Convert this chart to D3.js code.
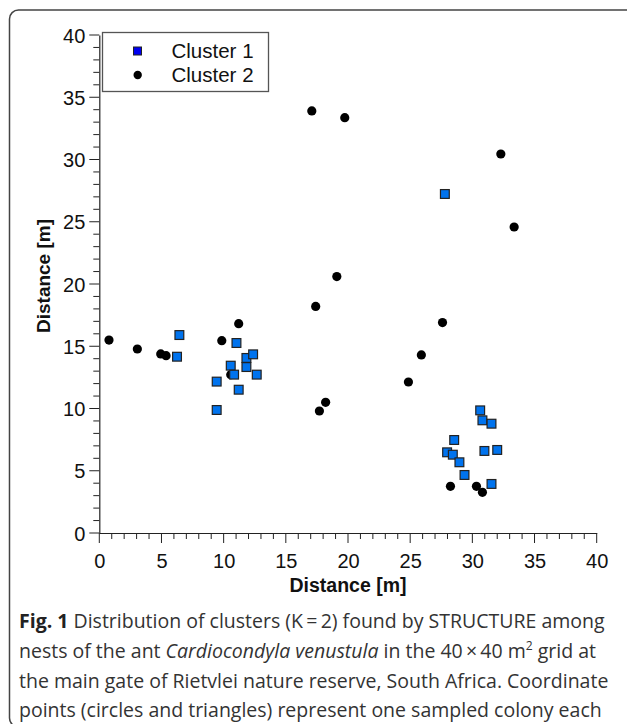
<!DOCTYPE html>
<html><head><meta charset="utf-8">
<script src="https://cdn.jsdelivr.net/npm/d3@7"></script>
<style>body{margin:0;background:#fff}svg{display:block}</style>
</head><body>
<svg id="c" width="627" height="724"></svg>
<script>
// ---- data ----
const seriesNames = ["Cluster 1", "Cluster 2"];
const cluster1X = [6.44, 6.25, 11.03, 11.83, 12.37, 10.57, 11.83, 10.84, 12.66, 9.44, 11.21, 9.44, 27.79, 30.63, 30.81, 31.54, 28.54, 27.97, 28.43, 28.96, 30.97, 32.0, 29.37, 31.54];
const cluster1Y = [15.9, 14.16, 15.26, 14.06, 14.35, 13.44, 13.33, 12.72, 12.72, 12.16, 11.51, 9.88, 27.23, 9.85, 9.05, 8.78, 7.47, 6.48, 6.29, 5.68, 6.59, 6.67, 4.66, 3.94];
const cluster2X = [0.78, 3.06, 4.94, 5.37, 9.85, 11.21, 10.57, 17.09, 19.74, 32.29, 33.36, 19.1, 17.4, 27.6, 25.9, 24.86, 17.7, 18.2, 28.24, 30.33, 30.81];
const cluster2Y = [15.5, 14.78, 14.38, 14.24, 15.45, 16.81, 12.72, 33.9, 33.36, 30.44, 24.58, 20.6, 18.2, 16.9, 14.3, 12.13, 9.8, 10.5, 3.75, 3.75, 3.27];
const xTickValues = [0, 5, 10, 15, 20, 25, 30, 35, 40];
const yTickValues = [0, 5, 10, 15, 20, 25, 30, 35, 40];
const axisTitleX = "Distance [m]";
const axisTitleY = "Distance [m]";

const svg = d3.select("#c");
const axisFont = "'Liberation Sans', Arial, sans-serif";

// frame
svg.append("rect").attr("x", 9.5).attr("y", 10).attr("width", 680).attr("height", 717)
  .attr("rx", 9).attr("fill", "none").attr("stroke", "#444").attr("stroke-width", 1.5);

const x = d3.scaleLinear().domain([0, 40]).range([99.3, 596.7]);
const y = d3.scaleLinear().domain([0, 40]).range([533, 35]);

// minor ticks
const minor = d3.range(0, 41, 1);
const g = svg.append("g");
g.selectAll(".mx").data(minor).join("line")
  .attr("x1", d => x(d)).attr("x2", d => x(d)).attr("y1", y(0)).attr("y2", d => y(0) + (d % 5 === 0 ? 10 : 6))
  .attr("stroke", "#222").attr("stroke-width", 1);
g.selectAll(".my").data(minor).join("line")
  .attr("y1", d => y(d)).attr("y2", d => y(d)).attr("x1", x(0)).attr("x2", d => x(0) - (d % 5 === 0 ? 10 : 6))
  .attr("stroke", "#222").attr("stroke-width", 1);

// axes
const xa = svg.append("g").attr("transform", `translate(0,${y(0)})`)
  .call(d3.axisBottom(x).tickValues(xTickValues).tickSize(0).tickPadding(21));
const ya = svg.append("g").attr("transform", `translate(${x(0)},0)`)
  .call(d3.axisLeft(y).tickValues(yTickValues).tickSize(0).tickPadding(14));
[xa, ya].forEach(a => {
  a.select(".domain").attr("stroke", "#222").attr("stroke-width", 1.2);
  a.selectAll("text").attr("font-family", axisFont).attr("font-size", 20).attr("fill", "#111");
});
ya.selectAll("text").attr("dy", "0.36em");

svg.append("text").attr("x", x(20)).attr("y", 592).attr("text-anchor", "middle")
  .attr("font-family", axisFont).attr("font-weight", "bold").attr("font-size", 19.5).attr("fill", "#111")
  .text(axisTitleX);
svg.append("text").attr("transform", "translate(50,276) rotate(-90)").attr("text-anchor", "middle")
  .attr("font-family", axisFont).attr("font-weight", "bold").attr("font-size", 19).attr("fill", "#111")
  .text(axisTitleY);

// points
const c1 = cluster1X.map((v, i) => ({x: v, y: cluster1Y[i]}));
const c2 = cluster2X.map((v, i) => ({x: v, y: cluster2Y[i]}));
svg.append("g").selectAll("circle").data(c2).join("circle")
  .attr("cx", d => x(d.x)).attr("cy", d => y(d.y)).attr("r", 4.6).attr("fill", "#000");
const s = 8.8;
svg.append("g").selectAll("rect").data(c1).join("rect")
  .attr("x", d => x(d.x) - s / 2).attr("y", d => y(d.y) - s / 2).attr("width", s).attr("height", s)
  .attr("fill", "#0073ee").attr("stroke", "#222").attr("stroke-width", 1.2);

// legend
const lg = svg.append("g");
lg.append("rect").attr("x", 102.5).attr("y", 32.5).attr("width", 166).attr("height", 59)
  .attr("fill", "#fff").attr("stroke", "#555").attr("stroke-width", 1.3);
lg.append("rect").attr("x", 133.5).attr("y", 47).attr("width", 8).attr("height", 8)
  .attr("fill", "#0000f0").attr("stroke", "#222").attr("stroke-width", 1);
lg.append("circle").attr("cx", 137.7).attr("cy", 75).attr("r", 4.2).attr("fill", "#000");
lg.selectAll("text").data(seriesNames).join("text")
  .attr("x", 171.5).attr("y", (d, i) => 51 + i * 24).attr("dy", "0.36em")
  .attr("font-family", axisFont).attr("font-size", 20.5).attr("fill", "#111").text(d => d);

// caption
const capFont = "'Open Sans', 'Noto Sans', sans-serif";
const cap = svg.append("g").attr("font-family", capFont).attr("fill", "#333");
const lines = [
  [["Fig. 1", "b"], [" Distribution of clusters (K\u2009=\u20092) found by STRUCTURE among", ""]],
  [["nests of the ant ", ""], ["Cardiocondyla venustula", "i"], [" in the 40\u2009\u00d7\u200940 m", ""], ["2", "sup"], [" grid at", ""]],
  [["the main gate of Rietvlei nature reserve, South Africa. Coordinate", ""]],
  [["points (circles and triangles) represent one sampled colony each", ""]]
];
const baseY = [628, 658, 688, 717];
const texts = lines.map((ln, li) => {
  const t = cap.append("text").attr("x", 19).attr("y", baseY[li]).attr("font-size", 18);
  ln.forEach(([str, st]) => {
    const sp = t.append("tspan").text(str);
    if (st === "b") sp.attr("font-weight", "bold").attr("fill", "#222");
    if (st === "i") sp.attr("font-style", "italic");
    if (st === "sup") sp.attr("font-size", 12).attr("dy", -8);
    if (str.startsWith(" grid")) sp.attr("dy", 8);
  });
  return t;
});
const w0 = texts[0].node().getComputedTextLength();
const fs = 18 * 586 / w0;
texts.forEach(t => t.attr("font-size", fs));
texts[1].selectAll("tspan").filter(function(){ return this.textContent === "2"; }).attr("font-size", fs * 0.62);
</script>
</body></html>
